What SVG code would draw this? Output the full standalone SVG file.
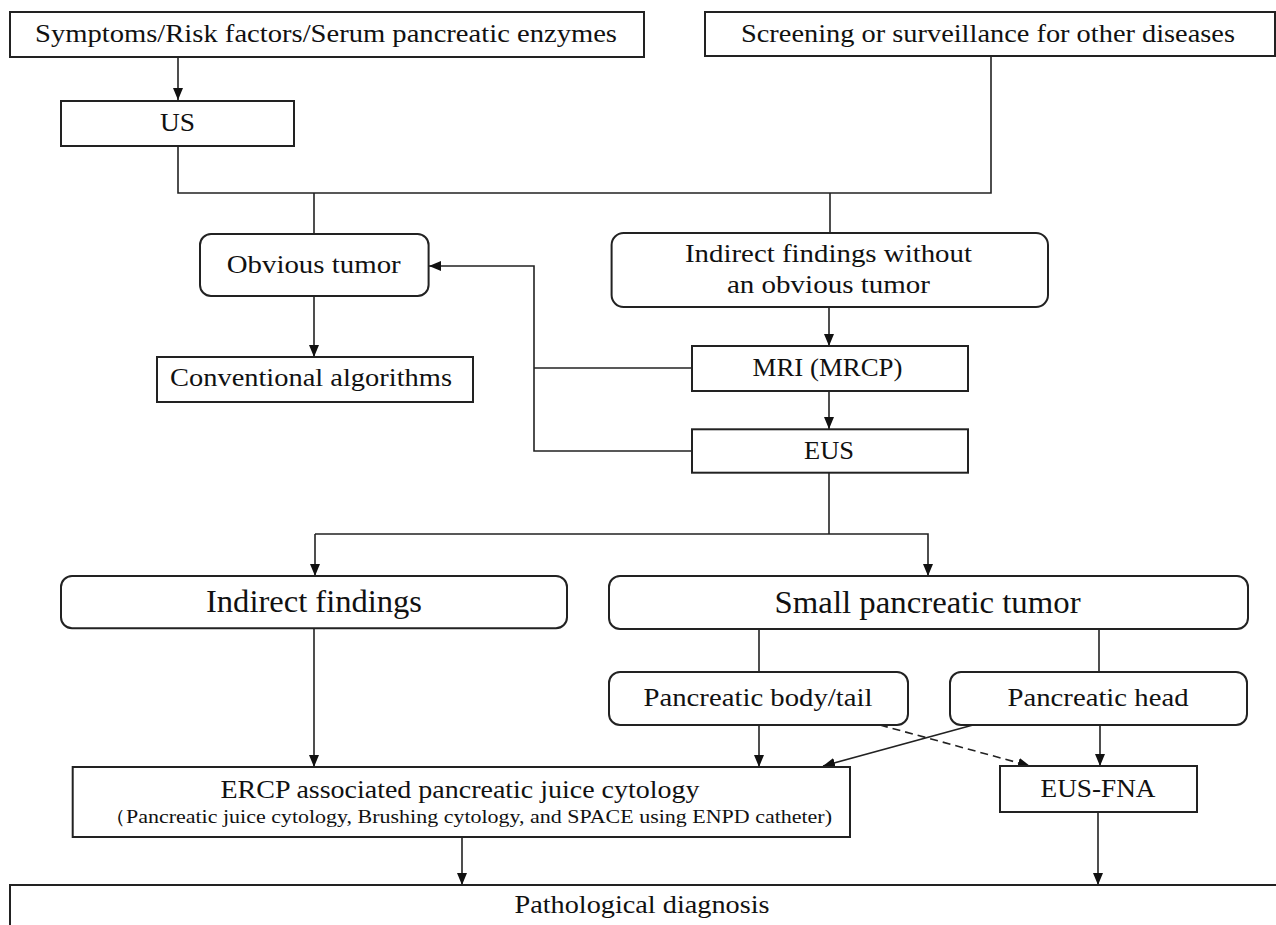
<svg xmlns="http://www.w3.org/2000/svg" width="1276" height="925" viewBox="0 0 1276 925">
<defs>
<marker id="ah" markerUnits="userSpaceOnUse" markerWidth="12" markerHeight="10" viewBox="0 0 12 10" refX="12" refY="5" orient="auto">
<path d="M0,0 L12,5 L0,10 Z" fill="#111"/>
</marker>
</defs>
<style>
.box{fill:#fff;stroke:#222;stroke-width:2}
.c{fill:none;stroke:#222;stroke-width:1.6}
.a{marker-end:url(#ah)}
.d{stroke-dasharray:8 5}
text{font-family:"Liberation Serif","Times New Roman",serif;fill:#111;text-anchor:middle}
.t{font-size:25px}
.tb{font-size:31px}
.ts{font-size:19px}
</style>
<rect width="1276" height="925" fill="#fff"/>
<g id="connectors">
<path class="c a" d="M178,57 V100"/>
<path class="c" d="M178,146 V193 H991 V56"/>
<path class="c" d="M314,193 V234"/>
<path class="c" d="M830,193 V233"/>
<path class="c a" d="M314,296 V357"/>
<path class="c a" d="M829,307 V346"/>
<path class="c a" d="M829,391 V429"/>
<path class="c" d="M692,368 H534"/>
<path class="c a" d="M692,451 H534 V266 H429"/>
<path class="c" d="M829,473 V534"/>
<path class="c a" d="M315,534 H928 V576"/>
<path class="c a" d="M315,534 V576"/>
<path class="c" d="M759,629 V672"/>
<path class="c" d="M1099,629 V672"/>
<path class="c a" d="M314,628 V767"/>
<path class="c a" d="M759,725 V767"/>
<path class="c a" d="M1100,725 V766"/>
<path class="c a" d="M973,725 L823,766"/>
<path class="c a d" d="M880,725 L1030,766"/>
<path class="c a" d="M462,837 V885"/>
<path class="c a" d="M1098,812 V885"/>
</g>
<g id="symptoms">
<rect class="box" x="10" y="12" width="634" height="45"/>
<text class="t" x="326" y="42" textLength="582" lengthAdjust="spacingAndGlyphs">Symptoms/Risk factors/Serum pancreatic enzymes</text>
</g>
<g id="screening">
<rect class="box" x="705" y="12" width="570" height="44"/>
<text class="t" x="988" y="42" textLength="494" lengthAdjust="spacingAndGlyphs">Screening or surveillance for other diseases</text>
</g>
<g id="us">
<rect class="box" x="61" y="101" width="233" height="45"/>
<text class="t" x="177.5" y="131" textLength="35" lengthAdjust="spacingAndGlyphs">US</text>
</g>
<g id="obvious">
<rect class="box" x="200" y="234" width="228.6" height="62" rx="11"/>
<text class="t" x="313.7" y="273" textLength="174" lengthAdjust="spacingAndGlyphs">Obvious tumor</text>
</g>
<g id="indirect-without">
<rect class="box" x="611.6" y="233" width="436.4" height="74" rx="12"/>
<text class="t" x="828.5" y="262" textLength="287" lengthAdjust="spacingAndGlyphs">Indirect findings without</text>
<text class="t" x="828.5" y="293" textLength="203" lengthAdjust="spacingAndGlyphs">an obvious tumor</text>
</g>
<g id="conventional">
<rect class="box" x="157" y="357" width="316" height="45"/>
<text class="t" x="311" y="386" textLength="282" lengthAdjust="spacingAndGlyphs">Conventional algorithms</text>
</g>
<g id="mri">
<rect class="box" x="692" y="346" width="276" height="45"/>
<text class="t" x="827.5" y="376" textLength="150" lengthAdjust="spacingAndGlyphs">MRI (MRCP)</text>
</g>
<g id="eus">
<rect class="box" x="692" y="429.3" width="276" height="43.4"/>
<text class="t" x="829" y="459" textLength="50" lengthAdjust="spacingAndGlyphs">EUS</text>
</g>
<g id="indirect">
<rect class="box" x="61" y="576" width="506" height="52.3" rx="11"/>
<text class="tb" x="314" y="612" textLength="216" lengthAdjust="spacingAndGlyphs">Indirect findings</text>
</g>
<g id="small-tumor">
<rect class="box" x="609" y="576" width="639" height="53" rx="11"/>
<text class="tb" x="927.6" y="613" textLength="306" lengthAdjust="spacingAndGlyphs">Small pancreatic tumor</text>
</g>
<g id="body-tail">
<rect class="box" x="609" y="672" width="299" height="53" rx="11"/>
<text class="t" x="758" y="706" textLength="229" lengthAdjust="spacingAndGlyphs">Pancreatic body/tail</text>
</g>
<g id="head">
<rect class="box" x="950" y="672" width="297" height="53" rx="11"/>
<text class="t" x="1098" y="706" textLength="181" lengthAdjust="spacingAndGlyphs">Pancreatic head</text>
</g>
<g id="ercp">
<rect class="box" x="72.7" y="767" width="777.3" height="70"/>
<text class="t" x="460" y="798" textLength="479" lengthAdjust="spacingAndGlyphs">ERCP associated pancreatic juice cytology</text>
<text class="ts" x="468" y="823" textLength="728" lengthAdjust="spacingAndGlyphs">（Pancreatic juice cytology, Brushing cytology, and SPACE using ENPD catheter)</text>
</g>
<g id="eus-fna">
<rect class="box" x="1000" y="766" width="197" height="46"/>
<text class="t" x="1098" y="797" textLength="115" lengthAdjust="spacingAndGlyphs">EUS-FNA</text>
</g>
<g id="pathological">
<rect class="box" x="10" y="885" width="1280" height="60"/>
<text class="t" x="642" y="913" textLength="255" lengthAdjust="spacingAndGlyphs">Pathological diagnosis</text>
</g>
</svg>
